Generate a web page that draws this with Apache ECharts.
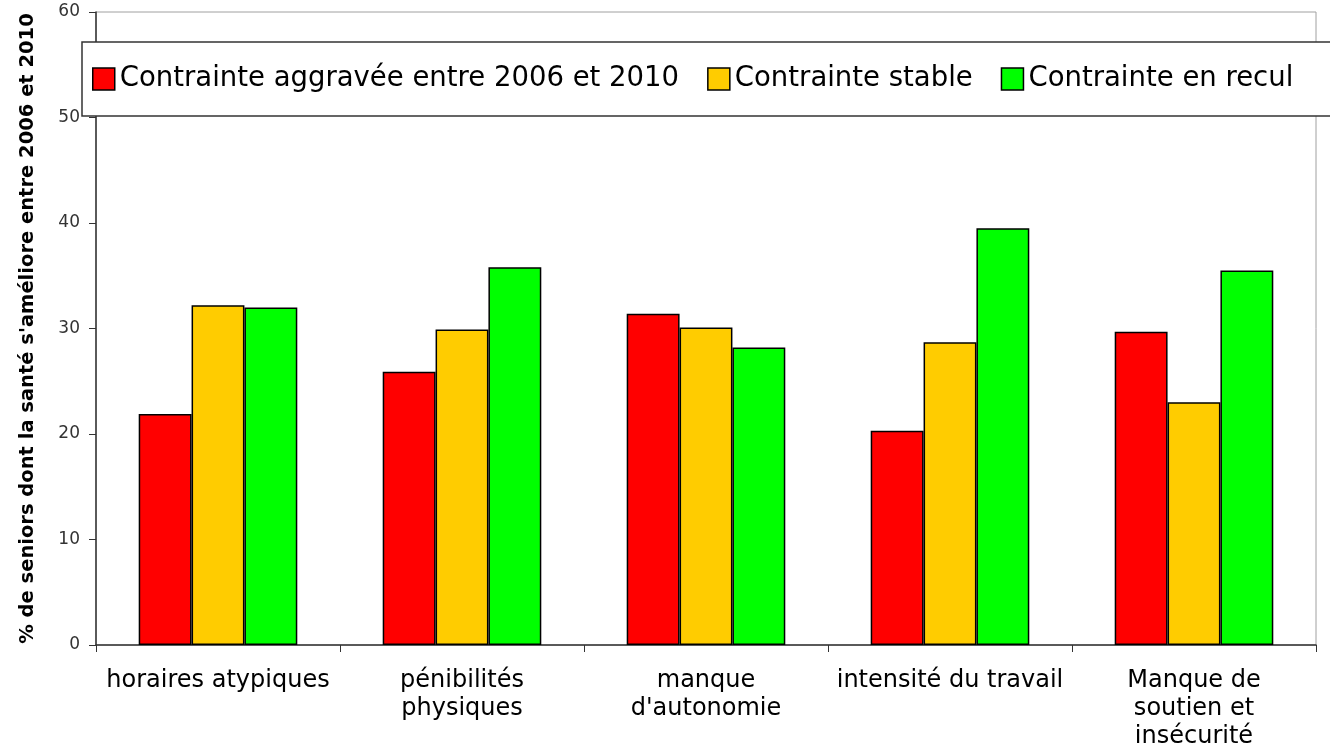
<!DOCTYPE html>
<html>
<head>
<meta charset="utf-8">
<script src="https://cdn.jsdelivr.net/npm/echarts@6/dist/echarts.min.js"></script>
<style>
  html, body { margin: 0; padding: 0; background: #fff; }
  #chart { width: 1330px; height: 748px; }
</style>
</head>
<body>
<div id="chart"></div>
<script>
const categories = [
  'horaires atypiques',
  'pénibilités\nphysiques',
  'manque\nd\'autonomie',
  'intensité du travail',
  'Manque de\nsoutien et\ninsécurité'
]
const seriesNames = [
  'Contrainte aggravée entre 2006 et 2010',
  'Contrainte stable',
  'Contrainte en recul'
]
const aggravee = [21.9, 25.9, 31.4, 20.3, 29.7]
const stable = [32.2, 29.9, 30.1, 28.7, 23.0]
const recul = [32.0, 35.8, 28.2, 39.5, 35.5]
const colors = ['#ff0000', '#ffcc00', '#00ff00']

const chart = echarts.init(document.getElementById('chart'))

const font = 'DejaVu Sans, Verdana, sans-serif'

function bar(name, data, color) {
  return {
    name,
    type: 'bar',
    data,
    barGap: '0%',
    barCategoryGap: '35%',
    itemStyle: { color, borderColor: '#000', borderWidth: 1.5 }
  }
}

chart.setOption({
  backgroundColor: '#fff',
  animation: false,
  textStyle: { fontFamily: font },
  grid: {
    left: 96,
    right: 14,
    top: 12,
    bottom: 103,
    outerBoundsMode: 'none',
    containLabel: false,
    show: true,
    borderColor: '#a0a0a0',
    borderWidth: 1
  },
  legend: {
    left: 82,
    top: 42,
    width: 1400,
    icon: 'rect',
    itemWidth: 22,
    itemHeight: 22,
    itemGap: 28,
    padding: [23, 60, 23, 10],
    backgroundColor: '#fff',
    borderColor: '#333',
    borderWidth: 1.5,
    textStyle: { fontSize: 27.5, color: '#000', fontFamily: font },
    itemStyle: { borderColor: '#000', borderWidth: 1.5 },
    data: seriesNames
  },
  xAxis: {
    type: 'category',
    data: categories,
    axisLine: { lineStyle: { color: '#333', width: 1.5 } },
    axisTick: { show: true, length: 7, lineStyle: { color: '#333' } },
    axisLabel: {
      color: '#000',
      fontSize: 24,
      lineHeight: 28,
      margin: 22,
      interval: 0
    }
  },
  yAxis: {
    type: 'value',
    min: 0,
    max: 60,
    interval: 10,
    name: '% de seniors dont la santé s\'améliore entre 2006 et 2010',
    nameLocation: 'middle',
    nameGap: 58,
    nameRotate: 90,
    nameTextStyle: { fontSize: 19.5, fontWeight: 'bold', color: '#000' },
    axisLine: { show: true, lineStyle: { color: '#333', width: 1.5 } },
    axisTick: { show: true, length: 7, lineStyle: { color: '#333' } },
    axisLabel: { color: '#333', fontSize: 17, margin: 16 },
    splitLine: { show: false }
  },
  series: [
    bar(seriesNames[0], aggravee, colors[0]),
    bar(seriesNames[1], stable, colors[1]),
    bar(seriesNames[2], recul, colors[2])
  ]
})
</script>
</body>
</html>
